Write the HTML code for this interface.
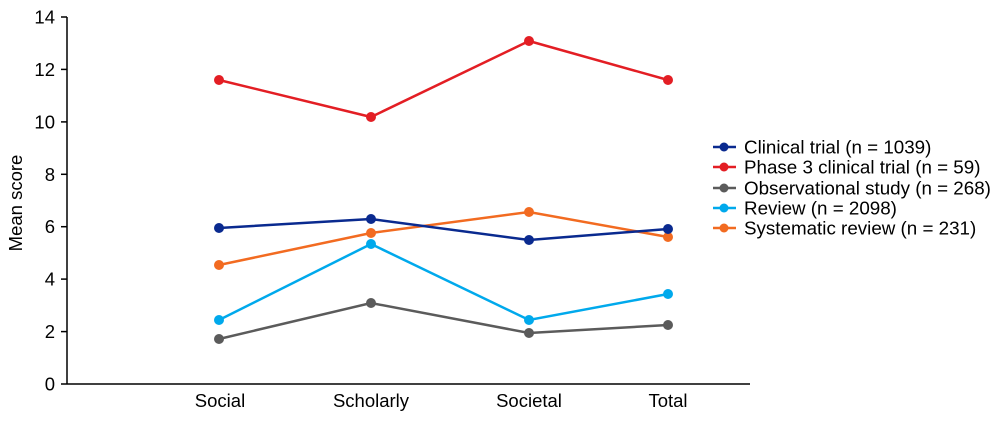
<!DOCTYPE html><html><head><style>body{margin:0;background:#fff}</style></head><body>
<svg width="1000" height="418" xmlns="http://www.w3.org/2000/svg" font-family="Liberation Sans, Arial, sans-serif">
<g stroke="#000" stroke-width="1.5" fill="none">
<line x1="67" y1="17" x2="67" y2="384.5"/><line x1="67" y1="384" x2="750" y2="384"/>
<line x1="61" y1="17" x2="67" y2="17"/><line x1="61" y1="69.4" x2="67" y2="69.4"/><line x1="61" y1="121.9" x2="67" y2="121.9"/><line x1="61" y1="174.3" x2="67" y2="174.3"/><line x1="61" y1="226.7" x2="67" y2="226.7"/><line x1="61" y1="279.1" x2="67" y2="279.1"/><line x1="61" y1="331.6" x2="67" y2="331.6"/><line x1="61" y1="384" x2="67" y2="384"/>
</g>
<g font-size="18.5" text-anchor="end" fill="#000">
<text x="55" y="23.5">14</text><text x="55" y="76">12</text><text x="55" y="128.5">10</text><text x="55" y="181">8</text><text x="55" y="233">6</text><text x="55" y="285.5">4</text><text x="55" y="338">2</text><text x="55" y="390.5">0</text>
</g>
<text transform="translate(22,203) rotate(-90)" font-size="18.5" text-anchor="middle">Mean score</text>
<g font-size="18.5" text-anchor="middle"><text x="220" y="407">Social</text><text x="371" y="407">Scholarly</text><text x="529" y="407">Societal</text><text x="668" y="407">Total</text></g>
<g stroke-width="2.5" fill="none">
<polyline stroke="#e31e24" points="219,80 371,117 529,41 668,80"/>
<polyline stroke="#5b5b5b" points="219,339 371,303 529,333 668,325"/>
<polyline stroke="#00a9ec" points="219,320 371,244 529,320 668,294"/>
<polyline stroke="#f26b21" points="219,265 371,233 529,212 668,237"/>
<polyline stroke="#0a2a8f" points="219,228 371,219 529,240 668,229"/>
</g>
<g fill="#e31e24"><circle cx="219" cy="80" r="5"/><circle cx="371" cy="117" r="5"/><circle cx="529" cy="41" r="5"/><circle cx="668" cy="80" r="5"/></g>
<g fill="#5b5b5b"><circle cx="219" cy="339" r="5"/><circle cx="371" cy="303" r="5"/><circle cx="529" cy="333" r="5"/><circle cx="668" cy="325" r="5"/></g>
<g fill="#00a9ec"><circle cx="219" cy="320" r="5"/><circle cx="371" cy="244" r="5"/><circle cx="529" cy="320" r="5"/><circle cx="668" cy="294" r="5"/></g>
<g fill="#f26b21"><circle cx="219" cy="265" r="5"/><circle cx="371" cy="233" r="5"/><circle cx="529" cy="212" r="5"/><circle cx="668" cy="237" r="5"/></g>
<g fill="#0a2a8f"><circle cx="219" cy="228" r="5"/><circle cx="371" cy="219" r="5"/><circle cx="529" cy="240" r="5"/><circle cx="668" cy="229" r="5"/></g>
<g font-size="18.8">
<line x1="713" y1="147" x2="736" y2="147" stroke="#0a2a8f" stroke-width="2.5"/><circle cx="724" cy="147" r="4.5" fill="#0a2a8f"/><text x="744" y="153.5">Clinical trial (n = 1039)</text>
<line x1="713" y1="167" x2="736" y2="167" stroke="#e31e24" stroke-width="2.5"/><circle cx="724" cy="167" r="4.5" fill="#e31e24"/><text x="744" y="173.5">Phase 3 clinical trial (n = 59)</text>
<line x1="713" y1="188" x2="736" y2="188" stroke="#5b5b5b" stroke-width="2.5"/><circle cx="724" cy="188" r="4.5" fill="#5b5b5b"/><text x="744" y="194.5">Observational study (n = 268)</text>
<line x1="713" y1="208" x2="736" y2="208" stroke="#00a9ec" stroke-width="2.5"/><circle cx="724" cy="208" r="4.5" fill="#00a9ec"/><text x="744" y="214.5">Review (n = 2098)</text>
<line x1="713" y1="228" x2="736" y2="228" stroke="#f26b21" stroke-width="2.5"/><circle cx="724" cy="228" r="4.5" fill="#f26b21"/><text x="744" y="234.5">Systematic review (n = 231)</text>
</g>
</svg></body></html>
